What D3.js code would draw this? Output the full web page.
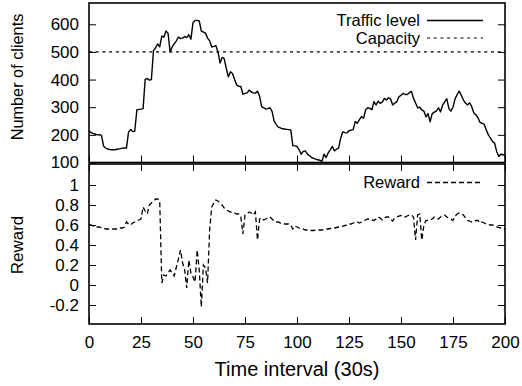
<!DOCTYPE html>
<html>
<head>
<meta charset="utf-8">
<script src="https://cdn.jsdelivr.net/npm/d3@7"></script>
<style>
  body { margin: 0; background: #fff; }
  svg { font-family: "Liberation Sans", Arial, sans-serif; }
</style>
</head>
<body>
<div id="chart"></div>
<script>
// time intervals 0..200 (30 s each)
const traffic = [
  215,208,205,203,200,201,198,160,152,149,147,146,146,147,149,150,152,153,152,210,
  219,212,213,290,292,293,295,400,404,398,400,505,515,529,518,558,553,576,568,500,
  518,530,540,554,548,550,556,552,562,546,606,614,614,612,575,572,568,550,540,518,
  520,523,500,460,480,476,440,410,428,422,400,380,376,375,347,350,352,362,355,352,
  351,358,340,302,298,293,295,298,285,250,238,228,225,222,221,220,219,218,161,160,
  158,146,130,140,142,130,125,118,115,112,110,108,104,130,118,135,146,158,142,148,
  152,188,211,208,207,215,217,219,248,242,255,266,260,291,298,296,291,320,308,322,
  314,318,332,326,334,330,308,315,320,338,343,350,346,346,352,358,332,315,298,300,
  290,286,265,277,247,277,282,286,298,283,308,319,331,296,286,300,330,346,358,343,
  326,315,308,316,302,280,272,262,245,242,238,217,200,188,176,170,140,122,130,128,
  128
];
const reward = [
  0.60,0.60,0.59,0.59,0.58,0.58,0.57,0.57,0.56,0.56,0.56,0.56,0.56,0.56,0.56,0.57,0.57,0.58,0.63,0.61,
  0.60,0.62,0.63,0.64,0.65,0.66,0.78,0.74,0.71,0.80,0.82,0.84,0.86,0.86,0.84,0.02,0.10,0.09,0.12,0.15,
  0.12,0.09,0.18,0.26,0.35,0.22,0.15,-0.03,0.25,0.12,0.08,0.03,0.35,0.15,-0.22,0.20,0.17,0.02,0.55,0.78,
  0.82,0.85,0.84,0.82,0.80,0.77,0.75,0.74,0.73,0.73,0.72,0.71,0.71,0.68,0.51,0.70,0.71,0.73,0.72,0.70,
  0.73,0.45,0.66,0.67,0.65,0.66,0.67,0.68,0.66,0.64,0.63,0.63,0.62,0.62,0.61,0.61,0.61,0.60,0.56,0.59,
  0.58,0.57,0.56,0.56,0.55,0.55,0.55,0.545,0.545,0.55,0.55,0.55,0.55,0.555,0.56,0.56,0.565,0.57,0.57,0.575,
  0.58,0.58,0.59,0.595,0.60,0.61,0.61,0.62,0.625,0.63,0.62,0.63,0.64,0.65,0.66,0.66,0.65,0.645,0.66,0.68,
  0.67,0.65,0.67,0.68,0.68,0.66,0.64,0.67,0.68,0.69,0.695,0.69,0.68,0.69,0.70,0.70,0.68,0.45,0.70,0.71,
  0.45,0.60,0.645,0.65,0.65,0.66,0.68,0.67,0.66,0.68,0.69,0.70,0.68,0.67,0.66,0.645,0.69,0.71,0.72,0.71,
  0.70,0.67,0.645,0.64,0.63,0.64,0.645,0.645,0.62,0.63,0.62,0.61,0.605,0.60,0.60,0.59,0.58,0.575,0.57,0.56,
  0.56
];
const capacity = 500;
const xTicks = [0, 25, 50, 75, 100, 125, 150, 175, 200];
const trafficTicks = [100, 200, 300, 400, 500, 600];
const rewardTicks = [-0.2, 0, 0.2, 0.4, 0.6, 0.8, 1];
const labels = { traffic: "Traffic level", capacity: "Capacity", reward: "Reward" };

const width = 522, height = 386;
const left = 89, right = 505;
const top1 = 3, bot1 = 162.5, top2 = 164, bot2 = 324;

const svg = d3.select("#chart").append("svg")
  .attr("width", width).attr("height", height);

const x = d3.scaleLinear().domain([0, 200]).range([left, right]);
const y1 = d3.scaleLinear().domain([100, 677]).range([bot1, top1]);
const y2 = d3.scaleLinear().domain([-0.39, 1.21]).range([bot2, top2]);

function styleAxis(g, fs) {
  g.select(".domain").remove();
  g.selectAll(".tick line").attr("stroke", "#000");
  g.selectAll(".tick text").attr("font-size", fs).attr("fill", "#000").attr("font-family", null);
}
const plain = d => String(d);

// top panel axes
svg.append("g").attr("transform", `translate(${left},0)`)
  .call(d3.axisLeft(y1).tickValues(trafficTicks).tickSize(-7).tickPadding(10).tickFormat(plain))
  .call(g => styleAxis(g, 17));
svg.append("g").attr("transform", `translate(${right},0)`)
  .call(d3.axisRight(y1).tickValues(trafficTicks.slice(1)).tickSize(-7).tickFormat(""))
  .call(g => styleAxis(g, 17));
svg.append("g").attr("transform", `translate(0,${bot1})`)
  .call(d3.axisBottom(x).tickValues(xTicks).tickSize(-7).tickFormat(""))
  .call(g => styleAxis(g, 17));

// bottom panel axes
svg.append("g").attr("transform", `translate(${left},0)`)
  .call(d3.axisLeft(y2).tickValues(rewardTicks).tickSize(-7).tickPadding(10).tickFormat(plain))
  .call(g => styleAxis(g, 17));
svg.append("g").attr("transform", `translate(${right},0)`)
  .call(d3.axisRight(y2).tickValues(rewardTicks).tickSize(-7).tickFormat(""))
  .call(g => styleAxis(g, 17));
svg.append("g").attr("transform", `translate(0,${top2})`)
  .call(d3.axisTop(x).tickValues(xTicks).tickSize(-7).tickFormat(""))
  .call(g => styleAxis(g, 17));
svg.append("g").attr("transform", `translate(0,${bot2})`)
  .call(d3.axisBottom(x).tickValues(xTicks).tickSize(-7).tickPadding(12).tickFormat(plain))
  .call(g => styleAxis(g, 17));

// capacity line
svg.append("line")
  .attr("x1", x(0)).attr("x2", x(200))
  .attr("y1", y1(capacity)).attr("y2", y1(capacity))
  .attr("stroke", "#000").attr("stroke-width", 1.2).attr("stroke-dasharray", "3,3.7");

// traffic line
const trafficLine = d3.line().x((d, i) => x(i)).y(d => y1(d));
svg.append("path").datum(traffic)
  .attr("d", trafficLine)
  .attr("fill", "none").attr("stroke", "#000").attr("stroke-width", 1.4)
  .attr("stroke-linejoin", "round");

// reward line
const rewardLine = d3.line().x((d, i) => x(i)).y(d => y2(d));
svg.append("path").datum(reward)
  .attr("d", rewardLine)
  .attr("fill", "none").attr("stroke", "#000").attr("stroke-width", 1.3)
  .attr("stroke-dasharray", "5,3");

// frames
svg.append("rect").attr("x", left).attr("y", top1)
  .attr("width", right - left).attr("height", bot1 - top1)
  .attr("fill", "none").attr("stroke", "#000").attr("stroke-width", 1.6);
svg.append("rect").attr("x", left).attr("y", top2)
  .attr("width", right - left).attr("height", bot2 - top2)
  .attr("fill", "none").attr("stroke", "#000").attr("stroke-width", 1.6);

// legends
const legend = [
  { text: labels.traffic, y: 26, dash: null, w: 1.4 },
  { text: labels.capacity, y: 43.5, dash: "3,3.7", w: 1.2 },
  { text: labels.reward, y: 188, dash: "5,3", w: 1.3 }
];
legend.forEach(l => {
  svg.append("text").attr("x", 420).attr("y", l.y)
    .attr("text-anchor", "end").attr("font-size", 16.5).text(l.text);
  svg.append("line").attr("x1", 427).attr("x2", 483)
    .attr("y1", l.y - 5.5).attr("y2", l.y - 5.5)
    .attr("stroke", "#000").attr("stroke-width", l.w)
    .attr("stroke-dasharray", l.dash);
});

// axis titles
svg.append("text")
  .attr("transform", "translate(23,77) rotate(-90)")
  .attr("text-anchor", "middle").attr("font-size", 16.3).text("Number of clients");
svg.append("text")
  .attr("transform", "translate(23,245) rotate(-90)")
  .attr("text-anchor", "middle").attr("font-size", 17).text("Reward");
svg.append("text")
  .attr("x", (left + right) / 2).attr("y", 376)
  .attr("text-anchor", "middle").attr("font-size", 20).text("Time interval (30s)");
</script>
</body>
</html>
